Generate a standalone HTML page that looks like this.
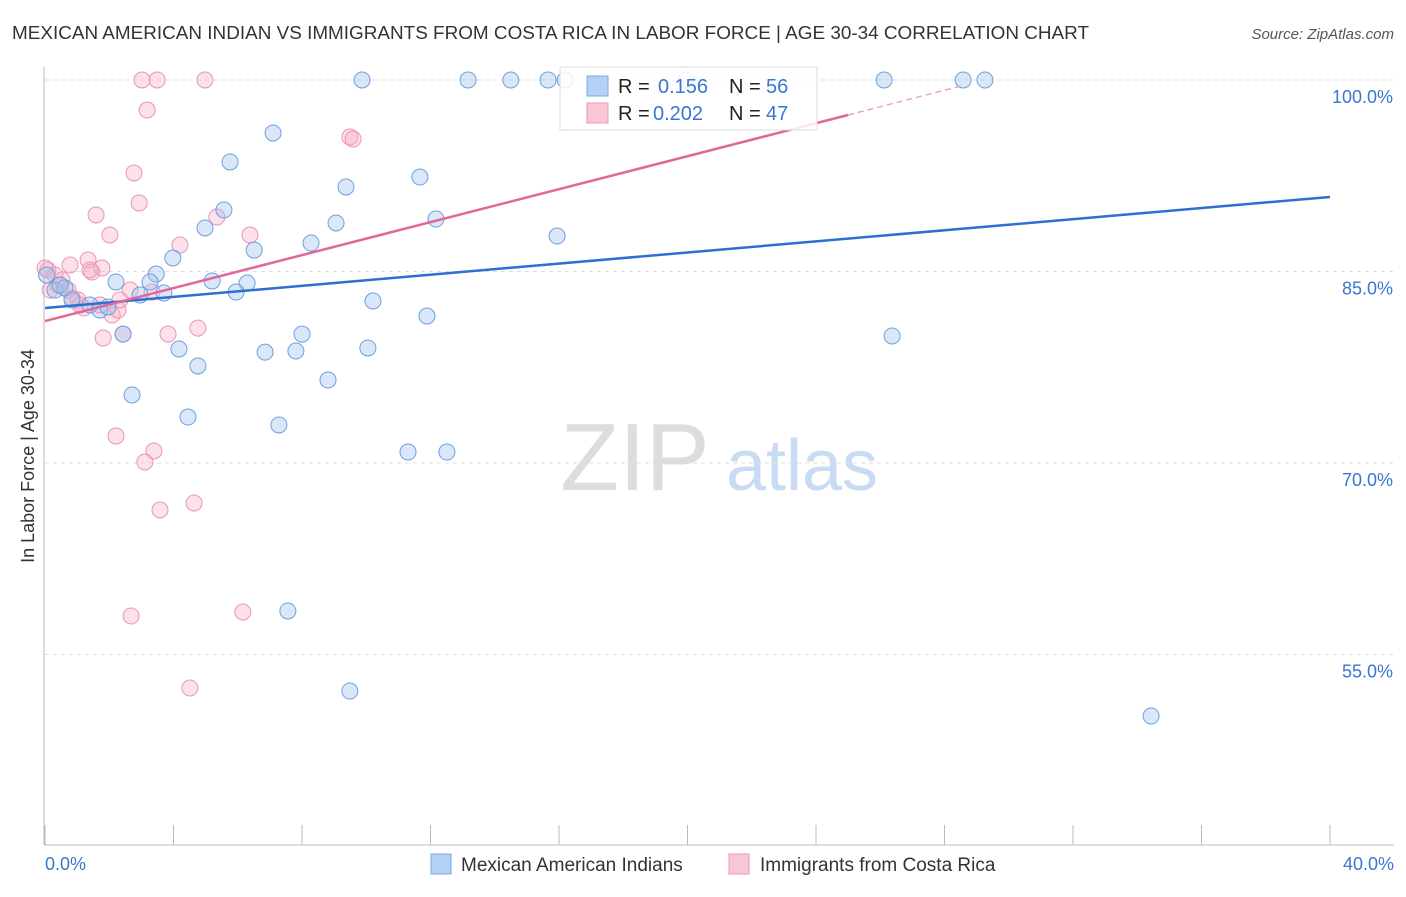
<!DOCTYPE html>
<html><head><meta charset="utf-8">
<style>
body{margin:0;background:#fff;font-family:"Liberation Sans",sans-serif;}
svg text{font-family:"Liberation Sans",sans-serif;}
</style></head>
<body>
<svg id="chart" width="1406" height="892" xmlns="http://www.w3.org/2000/svg">
<text x="12" y="39" font-size="18" fill="#333" textLength="1077" lengthAdjust="spacingAndGlyphs">MEXICAN AMERICAN INDIAN VS IMMIGRANTS FROM COSTA RICA IN LABOR FORCE | AGE 30-34 CORRELATION CHART</text>
<text x="1394" y="39" font-size="15" fill="#555" font-style="italic" text-anchor="end">Source: ZipAtlas.com</text>
<g>
<text x="635" y="490" font-size="96" fill="#ddd" font-family="Liberation Serif" text-anchor="middle">ZIP</text>
<text x="802" y="490" font-size="72" fill="#c9daf3" text-anchor="middle">atlas</text>
</g>
<g id="grid"></g><g id="axes"></g><g id="points"></g><g id="lines"></g>
<text transform="translate(34,456) rotate(-90)" font-size="18" fill="#333" text-anchor="middle">In Labor Force | Age 30-34</text>
<g>
<rect x="560" y="67" width="257" height="63" fill="rgba(255,255,255,0.85)" stroke="#ddd"/>
<rect x="587" y="76" width="21" height="20" fill="#b5d0f5" stroke="#7aa8e6"/>
<rect x="587" y="103" width="21" height="20" fill="#f9c6d6" stroke="#ec9ab6"/>
<text x="618" y="93" font-size="20" fill="#222">R =</text>
<text x="658" y="93" font-size="20" fill="#3a76d0">0.156</text>
<text x="729" y="93" font-size="20" fill="#222">N =</text>
<text x="766" y="93" font-size="20" fill="#3a76d0">56</text>
<text x="618" y="120" font-size="20" fill="#222">R =</text>
<text x="653" y="120" font-size="20" fill="#3a76d0">0.202</text>
<text x="729" y="120" font-size="20" fill="#222">N =</text>
<text x="766" y="120" font-size="20" fill="#3a76d0">47</text>
</g>
<g>
<rect x="431" y="854" width="20" height="20" fill="#b5d0f5" stroke="#7aa8e6"/>
<text x="461" y="871" font-size="19" fill="#333">Mexican American Indians</text>
<rect x="729" y="854" width="20" height="20" fill="#f9c6d6" stroke="#ec9ab6"/>
<text x="760" y="871" font-size="19" fill="#333">Immigrants from Costa Rica</text>
</g>
</svg>
<script>
const yTicks=[100,85,70,55];
const yTickLabels=["100.0%","85.0%","70.0%","55.0%"];
const xTickLabels=["0.0%","40.0%"];
const blueX=[9.87,13.17,14.5,15.66,16.19,19.95,26.12,28.58,29.26,7.10,5.76,9.37,11.67,5.57,4.98,9.06,12.17,8.28,6.51,15.94,3.98,3.46,2.21,3.27,5.20,6.29,5.95,3.70,2.96,0.31,0.62,0.84,1.40,1.71,1.96,2.43,10.21,11.89,8.00,7.81,6.85,4.17,10.05,4.76,8.81,26.37,2.71,4.45,7.28,11.30,12.51,7.56,9.49,34.43,0.05,0.47];
const blueY=[100,100,100,100,100,100,100,100,100,95.85,93.58,91.62,92.40,89.82,88.41,88.80,89.11,87.23,86.68,87.78,86.06,84.80,84.18,84.18,84.26,84.10,83.39,83.32,83.16,83.55,83.71,82.77,82.38,81.98,82.22,80.10,82.69,81.51,80.10,78.77,78.69,78.93,79.01,77.60,76.50,79.95,75.33,73.60,72.98,70.86,70.86,58.41,52.14,50.18,84.73,83.94];
const pinkX=[3.02,3.49,4.98,3.18,9.49,9.59,2.77,2.93,1.59,5.35,2.02,6.38,4.20,0.09,0.31,1.34,1.77,1.46,0.78,0.40,0.72,1.03,1.21,2.09,2.27,2.65,3.33,1.81,3.83,4.76,2.43,2.21,3.39,3.11,3.58,4.64,2.68,6.16,4.51,0.0,0.53,1.71,1.09,0.84,0.16,2.33,1.40];
const pinkY=[100,100,100,97.65,95.54,95.38,92.72,90.37,89.43,89.27,87.86,87.86,87.08,85.12,84.73,85.90,85.27,84.96,85.51,83.94,83.55,82.77,82.14,81.59,81.98,83.55,83.39,79.79,80.10,80.57,80.10,72.12,70.94,70.08,66.32,66.87,58.02,58.33,52.38,85.27,84.33,82.38,82.38,82.92,83.55,82.77,85.12];
const blueTrend=[82.14,90.84];
const pinkTrend=[81.12,97.26];
const NS="http://www.w3.org/2000/svg";
const X=v=>45+v*32.125;
const Y=v=>80+(100-v)*12.767;
function mk(p,t,a){const e=document.createElementNS(NS,t);for(const k in a)e.setAttribute(k,a[k]);p.appendChild(e);return e;}
const grid=document.getElementById('grid'),axes=document.getElementById('axes'),lines=document.getElementById('lines'),pts=document.getElementById('points');
yTicks.forEach((t,i)=>{
 const l=mk(grid,'line',{x1:45,x2:1394,y1:Y(t),y2:Y(t),stroke:'#ddd','stroke-dasharray':'4,4'});
 
 
 const tx=mk(axes,'text',{x:1393,y:Y(t)+23,'font-size':18,fill:'#3a76d0','text-anchor':'end'});
 tx.textContent=yTickLabels[i];
 
 
});
const ax=mk(axes,'line',{x1:44,x2:44,y1:67,y2:845,stroke:'#bbb'});


const bx=mk(axes,'line',{x1:44,x2:1394,y1:845,y2:845,stroke:'#bbb'});


for(let i=0;i<=10;i++){const t=mk(axes,'line',{x1:X(i*4),x2:X(i*4),y1:825,y2:845,stroke:'#bbb'});
 
 }
[[0,'start',45],[40,'end',1394]].forEach((d,i)=>{const t=mk(axes,'text',{x:d[2],y:870,'font-size':18,fill:'#3a76d0','text-anchor':d[1]});t.textContent=xTickLabels[i];
 
 });
function dot(x,y,c,s,name){const e=mk(pts,'circle',{cx:X(x),cy:Y(y),r:8,fill:c,stroke:s,'stroke-width':1});
 
 }
pinkX.forEach((x,i)=>dot(x,pinkY[i],'rgba(245,170,195,0.35)','#e995b3','pink-point'));
blueX.forEach((x,i)=>dot(x,blueY[i],'rgba(160,196,240,0.4)','#6f9fe0','blue-point'));
const bl=mk(lines,'line',{x1:X(0),y1:Y(blueTrend[0]),x2:X(40),y2:Y(blueTrend[1]),stroke:'#2f6fd0','stroke-width':2.5});


const slope=(pinkTrend[1]-pinkTrend[0])/25;
const pl=mk(lines,'line',{x1:X(0),y1:Y(pinkTrend[0]),x2:X(25),y2:Y(pinkTrend[1]),stroke:'#e0679a','stroke-width':2.5});


const pd=mk(lines,'line',{x1:X(25),y1:Y(pinkTrend[1]),x2:X(28.5),y2:Y(pinkTrend[1]+slope*3.5),stroke:'#e995b3','stroke-width':1.2,'stroke-dasharray':'6,4'});


</script>
</body></html>
